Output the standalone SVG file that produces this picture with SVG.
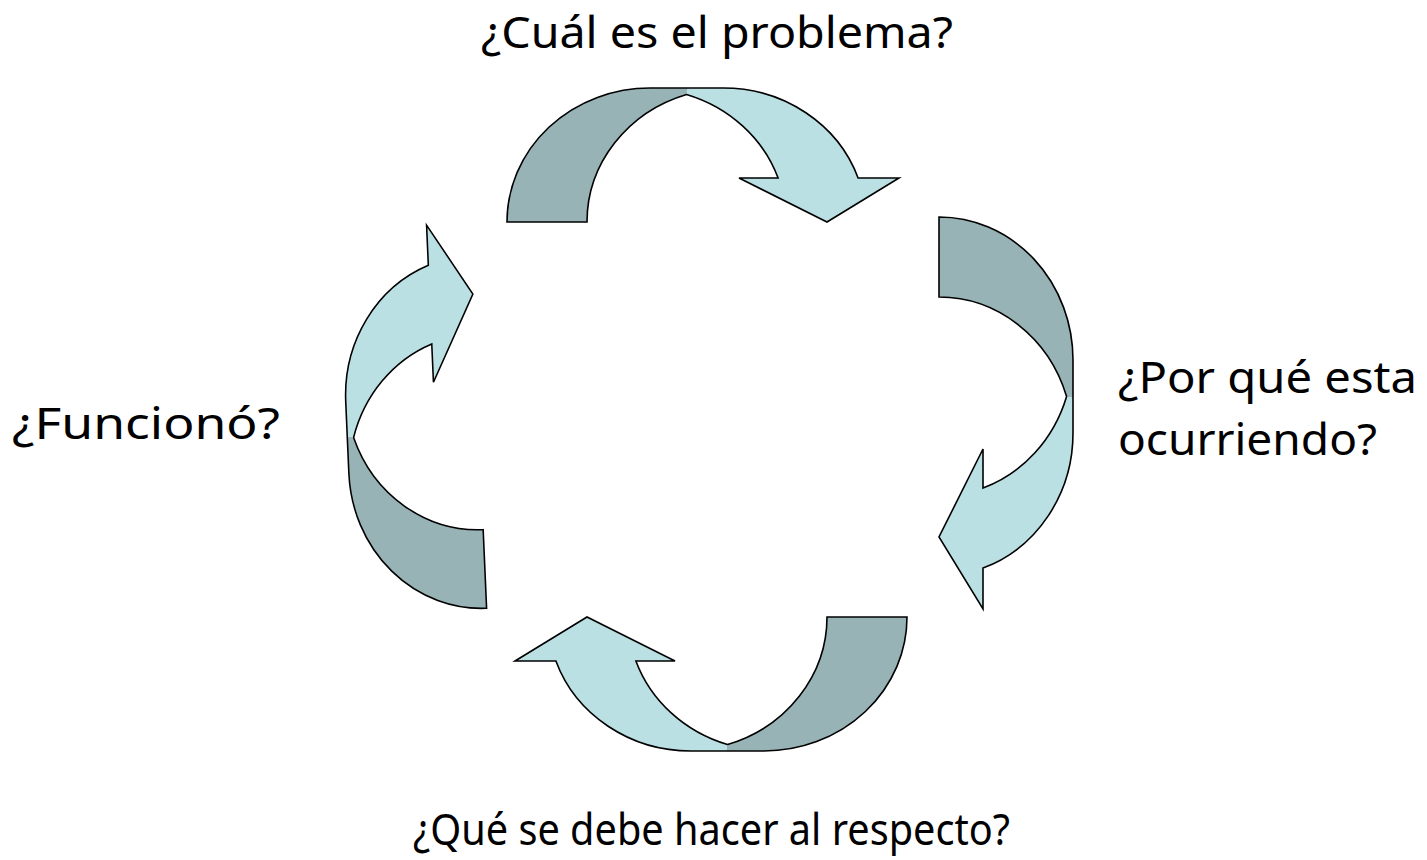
<svg xmlns="http://www.w3.org/2000/svg" xmlns:xlink="http://www.w3.org/1999/xlink" width="1427" height="860" viewBox="0 0 1427 860">
<style>
  .back { fill: #97B3B6; stroke: none; }
  .front { fill: #BBE0E3; stroke: none; }
  .outline { fill: none; stroke: #000; stroke-width: 1.6; stroke-linejoin: miter; }
  .lbl { font-family: "Comic Sans MS", "Noto Sans", "DejaVu Sans", sans-serif; font-size: 44px; fill: #000; }
</style>
<defs>
  <g id="curvedArrow">
    <path class="back" d="M0,134 A143,134 0 0 1 143,0 L181,0 L179.5,6.4 A143,134 0 0 0 80,134 Z"/>
    <path class="front" d="M179.5,6.4 L181,0 L216,0 A143,134 0 0 1 351.1,90 L392,90 L320,134 L232,90 L271.1,90 A143,134 0 0 0 179.5,6.4 Z"/>
    <path class="outline" d="M0,134 A143,134 0 0 1 143,0 L216,0 A143,134 0 0 1 351.1,90 L392,90 L320,134 L232,90 L271.1,90 A143,134 0 0 0 179.5,6.4 A143,134 0 0 0 80,134 Z"/>
  </g>
</defs>
<rect width="1427" height="860" fill="#fff"/>
<g id="connectors">
  <use id="arrow-top" xlink:href="#curvedArrow" href="#curvedArrow" transform="translate(507,88)"/>
  <use id="arrow-right" xlink:href="#curvedArrow" href="#curvedArrow" transform="translate(1073,217) rotate(90)"/>
  <use id="arrow-bottom" xlink:href="#curvedArrow" href="#curvedArrow" transform="translate(907,751) rotate(180)"/>
  <use id="arrow-left" xlink:href="#curvedArrow" href="#curvedArrow" transform="translate(355,614) rotate(-92.5) scale(0.983)"/>
</g>
<g id="node-problema">
  <text class="lbl" x="481" y="48" textLength="472" lengthAdjust="spacingAndGlyphs">¿Cuál es el problema?</text>
</g>
<g id="node-porque">
  <text class="lbl" x="1118" y="393" textLength="299" lengthAdjust="spacingAndGlyphs">¿Por qué esta</text>
  <text class="lbl" x="1118" y="455" textLength="259" lengthAdjust="spacingAndGlyphs">ocurriendo?</text>
</g>
<g id="node-hacer">
  <text class="lbl" x="413" y="845" textLength="597" lengthAdjust="spacingAndGlyphs">¿Qué se debe hacer al respecto?</text>
</g>
<g id="node-funciono">
  <text class="lbl" x="12" y="439" textLength="268" lengthAdjust="spacingAndGlyphs">¿Funcionó?</text>
</g>
</svg>
